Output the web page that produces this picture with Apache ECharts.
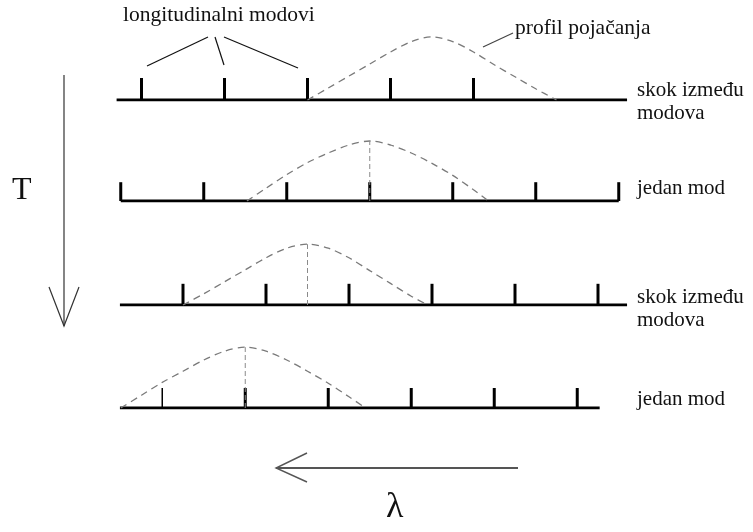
<!DOCTYPE html>
<html>
<head>
<meta charset="utf-8">
<script src="https://cdn.jsdelivr.net/npm/echarts@6/dist/echarts.min.js"></script>
<style>
  html, body { margin: 0; padding: 0; background: #fff; }
  #chart { width: 753px; height: 532px; }
</style>
</head>
<body>
<div id="chart"></div>
<script>
// x: wavelength in mode-spacing units, y: relative gain
const modes1 = [0.5, 1.5, 2.5, 3.5, 4.5]
const modes2 = [0.25, 1.25, 2.25, 3.25, 4.25, 5.25, 6.25]
const modes3 = [1.0, 2.0, 3.0, 4.0, 5.0, 6.0]
const modes4 = [0.75, 1.75, 2.75, 3.75, 4.75, 5.75]
const weakModes4 = [0.75]

const modeHeight = [0.275, 0.235, 0.265, 0.25]

const span1 = [0.2, 6.35]
const span2 = [0.25, 6.25]
const span3 = [0.24, 6.35]
const span4 = [0.24, 6.02]

const gain1 = [[2.5, 0], [2.75, 0.15], [3.0, 0.3], [3.25, 0.45], [3.5, 0.6], [3.75, 0.73], [4.0, 0.79],
  [4.25, 0.73], [4.5, 0.6], [4.75, 0.44], [5.0, 0.29], [5.25, 0.14], [5.5, 0]]
const gain2 = [[1.77, 0], [2.0, 0.16], [2.25, 0.33], [2.5, 0.48], [2.75, 0.6], [3.0, 0.7], [3.25, 0.75],
  [3.5, 0.7], [3.75, 0.6], [4.0, 0.47], [4.25, 0.32], [4.5, 0.14], [4.68, 0]]
const gain3 = [[1.0, 0], [1.25, 0.14], [1.5, 0.29], [1.75, 0.44], [2.0, 0.59], [2.25, 0.71], [2.5, 0.76],
  [2.75, 0.71], [3.0, 0.59], [3.25, 0.43], [3.5, 0.27], [3.75, 0.11], [3.95, 0]]
const gain4 = [[0.25, 0], [0.5, 0.16], [0.75, 0.32], [1.0, 0.46], [1.25, 0.6], [1.5, 0.71], [1.75, 0.76],
  [2.0, 0.71], [2.25, 0.6], [2.5, 0.46], [2.75, 0.31], [3.0, 0.14], [3.2, 0]]

// lasing mode (peak of gain) marked with dashed line, row 1 has none
const lasing = [null, 3.25, 2.5, 1.75]

const rowLabels = ['skok između\nmodova', 'jedan mod', 'skok između\nmodova', 'jedan mod']

const rows = [
  {modes: modes1, span: span1, gain: gain1},
  {modes: modes2, span: span2, gain: gain2},
  {modes: modes3, span: span3, gain: gain3},
  {modes: modes4, span: span4, gain: gain4}
]
const baseY = [100, 201, 305, 408]

const myChart = echarts.init(document.getElementById('chart'))
const font = 'Liberation Serif'
const f = size => size + 'px "' + font + '"'

let grid = [], xAxis = [], yAxis = [], series = []
rows.forEach((r, i) => {
  grid.push({left: 100, width: 653, top: baseY[i] - 80, height: 80})
  xAxis.push({type: 'value', gridIndex: i, min: 0, max: 653 / 83, show: false})
  yAxis.push({type: 'value', gridIndex: i, min: 0, max: 1, show: false})

  series.push({
    type: 'line', xAxisIndex: i, yAxisIndex: i, symbol: 'none', silent: true,
    lineStyle: {color: '#000', width: 3},
    data: r.span.map(x => [x, 0])
  })
  series.push({
    type: 'custom', xAxisIndex: i, yAxisIndex: i, silent: true,
    renderItem: (params, api) => {
      const p0 = api.coord([api.value(0), 0])
      const p1 = api.coord([api.value(0), api.value(1)])
      return {
        type: 'line',
        shape: {x1: p0[0], y1: p0[1], x2: p1[0], y2: p1[1]},
        style: {stroke: '#000', lineWidth: api.value(2)}
      }
    },
    data: r.modes.map(x => [x, modeHeight[i], (i === 3 && weakModes4.includes(x)) ? 1.5 : 3])
  })
  series.push({
    type: 'line', xAxisIndex: i, yAxisIndex: i, symbol: 'none', smooth: 0.3, silent: true,
    lineStyle: {color: '#7a7a7a', width: 1.3, type: [7, 5]},
    data: r.gain
  })
  if (lasing[i] !== null) {
    const peak = r.gain.find(p => p[0] === lasing[i])[1]
    series.push({
      type: 'line', xAxisIndex: i, yAxisIndex: i, symbol: 'none', silent: true,
      lineStyle: {color: '#8a8a8a', width: 1, type: [5, 3]},
      data: [[lasing[i], 0], [lasing[i], peak]]
    })
  }
})

const labelY = [[93, 116], [191], [300, 323], [402]]
let graphic = []
rowLabels.forEach((t, i) => {
  t.split('\n').forEach((line, j) => {
    graphic.push({
      type: 'text', left: 637, top: labelY[i][j] - 13,
      style: {text: line, font: f(21), fill: '#111'}
    })
  })
})

graphic.push(
  {type: 'text', left: 123, top: 4, style: {text: 'longitudinalni modovi', font: f(21.5), fill: '#111'}},
  {type: 'line', shape: {x1: 208, y1: 37, x2: 147, y2: 66}, style: {stroke: '#111', lineWidth: 1.2}},
  {type: 'line', shape: {x1: 215, y1: 37, x2: 224, y2: 65}, style: {stroke: '#111', lineWidth: 1.2}},
  {type: 'line', shape: {x1: 224, y1: 37, x2: 298, y2: 68}, style: {stroke: '#111', lineWidth: 1.2}},
  {type: 'text', left: 515, top: 17, style: {text: 'profil pojačanja', font: f(21.5), fill: '#111'}},
  {type: 'line', shape: {x1: 483, y1: 47, x2: 513, y2: 33}, style: {stroke: '#444', lineWidth: 1.2}},
  // T arrow
  {type: 'text', left: 12, top: 175, style: {text: 'T', font: f(32), fill: '#111'}},
  {type: 'line', shape: {x1: 64, y1: 75, x2: 64, y2: 326}, style: {stroke: '#333', lineWidth: 1.2}},
  {type: 'polyline', shape: {points: [[49, 287], [64, 326], [79, 287]]}, style: {stroke: '#333', lineWidth: 1.2, fill: null}},
  // lambda arrow
  {type: 'line', shape: {x1: 518, y1: 468, x2: 276, y2: 468}, style: {stroke: '#555', lineWidth: 2}},
  {type: 'polyline', shape: {points: [[307, 453], [276, 468], [307, 482]]}, style: {stroke: '#555', lineWidth: 1.4, fill: null}},
  {type: 'text', left: 386, top: 490, style: {text: 'λ', font: f(36), fill: '#111'}}
)

const option = {
  backgroundColor: '#fff',
  animation: false,
  grid: grid,
  xAxis: xAxis,
  yAxis: yAxis,
  series: series,
  graphic: graphic
}
myChart.setOption(option)
</script>
</body>
</html>
